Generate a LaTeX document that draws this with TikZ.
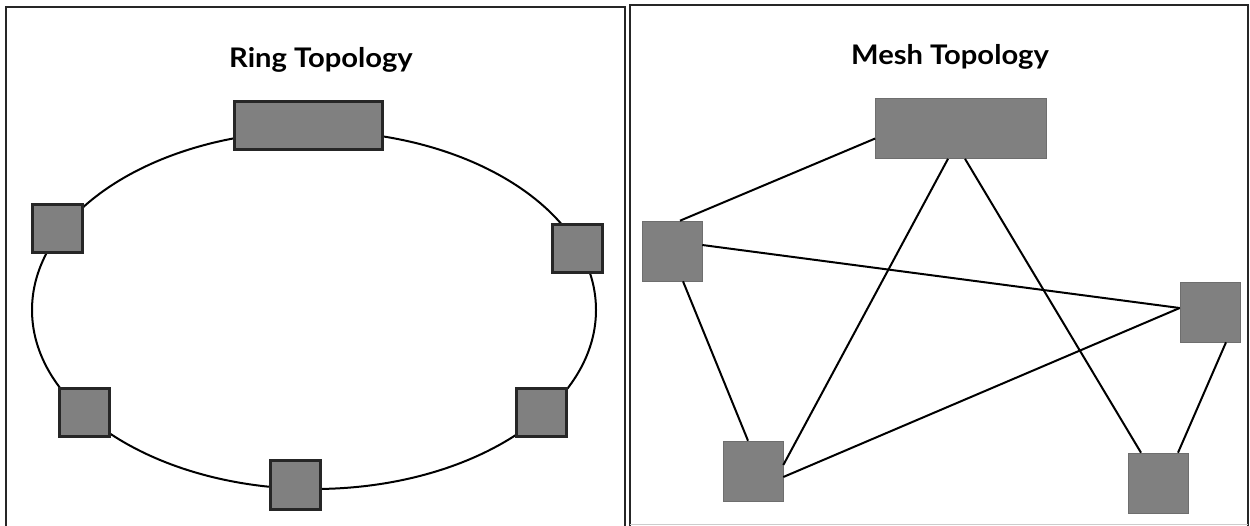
\documentclass[tikz,border=0pt]{standalone}
\usepackage{fontspec}
\setmainfont{Lato}
\newfontfamily\titlefont[FakeStretch=1.08]{Lato}
\usepackage{tikz}
\definecolor{nodegray}{RGB}{128,128,128}
\definecolor{edgegray}{RGB}{110,110,110}
\newcommand{\ringa}{282}
\newcommand{\ringb}{179}
\tikzstyle{panel}=[line width=2pt,black!85]
\tikzstyle{titre}=[font=\titlefont\fontsize{27}{32}\selectfont\bfseries,anchor=base]
\tikzstyle{rnode}=[draw=black!85,line width=2.6pt,fill=nodegray,inner sep=0pt]
\tikzstyle{mnode}=[draw=edgegray,line width=0.6pt,fill=nodegray,inner sep=0pt,minimum width=60pt,minimum height=60pt]
\tikzstyle{lien}=[line width=2pt,black]

\begin{document}
\begin{tikzpicture}[x=1pt,y=-1pt]

\useasboundingbox (0,0) rectangle (1250,525);

          % ring panel
\draw[panel] (6,530) -- (6,7) -- (625,7) -- (625,530);
\node[titre] (ringtitle) at (321,67) {Ring Topology};

\draw[lien] (314,310) ellipse [x radius=\ringa, y radius=\ringb];

\node[rnode,minimum width=148pt,minimum height=48pt] (rtop) at (308.5,125.5) {};
\node[rnode,minimum width=50pt,minimum height=48pt] (rleft) at (57.5,228.5) {};
\node[rnode,minimum width=50pt,minimum height=48pt] (rright) at (577.5,248.5) {};
\node[rnode,minimum width=50pt,minimum height=48pt] (rbl) at (84.5,412.5) {};
\node[rnode,minimum width=50pt,minimum height=48pt] (rbr) at (541.5,412.5) {};
\node[rnode,minimum width=50pt,minimum height=49pt] (rbot) at (295.5,485) {};

          % mesh panel
\draw[panel] (630,530) -- (630,5) -- (1248,5) -- (1248,530);
\draw[black!20,line width=1pt] (630,524) -- (1248,524);
\node[titre] (meshtitle) at (950,64) {Mesh Topology};

\node[mnode,minimum width=171pt] (mtop) at (961,128.5) {};
\node[mnode] (mleft) at (672,251) {};
\node[mnode] (mright) at (1210,312) {};
\node[mnode] (mbl) at (753,471) {};
\node[mnode] (mbr) at (1158,483) {};

\draw[lien] ([yshift=-10pt]mtop.west) -- ([xshift=8pt]mleft.north);
\draw[lien] ([xshift=-13pt]mtop.south) -- ([yshift=6pt]mbl.east);
\draw[lien] ([xshift=4pt]mtop.south) -- ([xshift=-17pt]mbr.north);
\draw[lien] ([yshift=6pt]mleft.east) -- ([yshift=4pt]mright.west);
\draw[lien] ([xshift=11pt]mleft.south) -- ([xshift=-5pt]mbl.north);
\draw[lien] ([yshift=-6pt]mbl.east) -- ([yshift=4pt]mright.west);
\draw[lien] ([xshift=16pt]mright.south) -- ([xshift=20pt]mbr.north);

\end{tikzpicture}
\end{document}
